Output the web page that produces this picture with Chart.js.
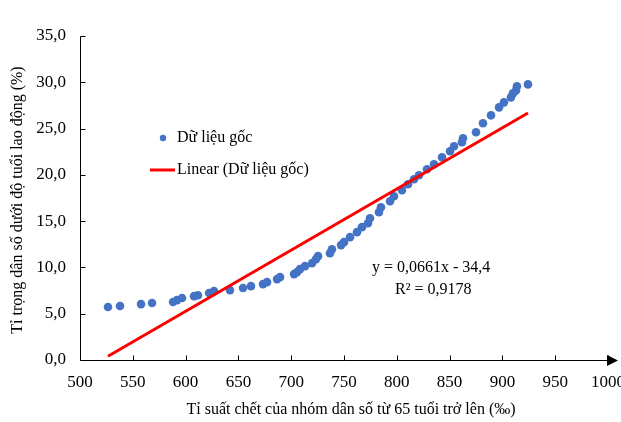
<!DOCTYPE html>
<html>
<head>
<meta charset="utf-8">
<script src="https://cdn.jsdelivr.net/npm/chart.js@4.4.1/dist/chart.umd.min.js"></script>
<style>
  body { margin: 0; background: #fff; }
  #wrap { width: 621px; height: 422px; }
</style>
</head>
<body>
<div id="wrap"><canvas id="chart" width="621" height="422"></canvas></div>
<script>
// Dữ liệu gốc
const mortality = [526.5, 537.9, 557.8, 568.2, 588.1, 591.9, 596.6, 608.0, 611.7, 622.2,
    626.9, 642.0, 654.4, 661.9, 673.3, 677.1, 686.6, 689.4, 702.7, 705.5,
    708.3, 713.1, 719.7, 723.5, 725.4, 736.7, 738.6, 747.2, 750.0, 755.7,
    762.3, 767.0, 772.7, 774.6, 783.1, 785.0, 793.6, 797.3, 804.9, 810.6,
    816.3, 821.0, 828.6, 835.2, 842.8, 850.4, 854.2, 861.7, 862.7, 875.0,
    881.6, 889.2, 896.8, 901.5, 908.1, 910.0, 912.9, 913.8, 924.2];
const youngShare = [5.72, 5.83, 6.04, 6.15, 6.26, 6.47, 6.69, 6.90, 7.00, 7.23,
    7.44, 7.55, 7.77, 7.98, 8.20, 8.41, 8.74, 8.95, 9.28, 9.49,
    9.82, 10.14, 10.46, 10.90, 11.22, 11.54, 11.97, 12.41, 12.73, 13.27,
    13.81, 14.35, 14.78, 15.32, 15.97, 16.50, 17.15, 17.69, 18.34, 18.99,
    19.53, 19.96, 20.60, 21.14, 21.90, 22.55, 23.09, 23.52, 23.95, 24.60,
    25.57, 26.43, 27.29, 27.83, 28.37, 28.80, 29.13, 29.56, 29.77];

// trendline coefficients (from the equation on the chart)
const slope = 0.0661;
const intercept = -34.4;
const rSquared = 0.9178;

const seriesLabels = ['Dữ liệu gốc', 'Linear (Dữ liệu gốc)'];
const xTitle = 'Tỉ suất chết của nhóm dân số từ 65 tuổi trở lên (‰)';
const yTitle = 'Tỉ trọng dân số dưới độ tuổi lao động (%)';

const SERIF = '"Liberation Serif", "Times New Roman", serif';
const BLUE = '#4472C4';
const RED = '#FF0000';

const points = mortality.map((x, i) => ({ x: x, y: youngShare[i] }));
const xMin = Math.min(...mortality);
const xMax = Math.max(...mortality);
const trend = [
    { x: xMin, y: slope * xMin + intercept },
    { x: xMax, y: slope * xMax + intercept }
];

function fmt(v, d) {
    return v.toFixed(d).replace('.', ',');
}

// axes, inward ticks, arrow, legend, titles and equation
const decorations = {
    id: 'decorations',
    afterDraw(chart) {
        const ctx = chart.ctx;
        const xs = chart.scales.x;
        const ys = chart.scales.y;
        const left = Math.round(xs.getPixelForValue(500)) + 0.5;
        const bottom = Math.round(ys.getPixelForValue(0)) + 0.5;
        const top = Math.round(ys.getPixelForValue(35)) + 0.5;
        const right = xs.getPixelForValue(1000);

        ctx.save();
        ctx.strokeStyle = '#000';
        ctx.lineWidth = 1;
        ctx.beginPath();
        ctx.moveTo(left, top);
        ctx.lineTo(left, bottom);
        ctx.lineTo(right, bottom);
        ctx.stroke();

        ctx.beginPath();
        for (let v = 0; v <= 35; v += 5) {
            const y = Math.round(ys.getPixelForValue(v)) + 0.5;
            ctx.moveTo(left, y);
            ctx.lineTo(left + 5, y);
        }
        for (let v = 550; v <= 1000; v += 50) {
            const x = Math.round(xs.getPixelForValue(v)) + 0.5;
            ctx.moveTo(x, bottom);
            ctx.lineTo(x, bottom - 5);
        }
        ctx.stroke();

        // arrow at the end of the x axis
        ctx.fillStyle = '#000';
        ctx.beginPath();
        ctx.moveTo(right - 1, bottom - 5.5);
        ctx.lineTo(right + 10, bottom);
        ctx.lineTo(right - 1, bottom + 5.5);
        ctx.closePath();
        ctx.fill();

        // legend
        ctx.fillStyle = BLUE;
        ctx.beginPath();
        ctx.arc(163, 138, 3.2, 0, Math.PI * 2);
        ctx.fill();
        ctx.strokeStyle = RED;
        ctx.lineWidth = 3;
        ctx.beginPath();
        ctx.moveTo(150, 170);
        ctx.lineTo(175, 170);
        ctx.stroke();

        ctx.fillStyle = '#000';
        ctx.font = '16px ' + SERIF;
        ctx.textAlign = 'left';
        ctx.textBaseline = 'middle';
        ctx.fillText(seriesLabels[0], 177, 138);
        ctx.fillText(seriesLabels[1], 177, 170);

        // equation
        ctx.fillText('y = ' + fmt(slope, 4) + 'x - ' + fmt(-intercept, 1), 372, 268);
        ctx.fillText('R² = ' + fmt(rSquared, 4), 395, 290);

        // axis titles
        ctx.textAlign = 'center';
        ctx.fillText(xTitle, 351, 410);
        ctx.translate(18, 200);
        ctx.rotate(-Math.PI / 2);
        ctx.fillText(yTitle, 0, 0);
        ctx.restore();
    }
};

const ctx = document.getElementById('chart').getContext('2d');
new Chart(ctx, {
    type: 'scatter',
    data: {
        datasets: [{
            label: seriesLabels[1],
            type: 'line',
            data: trend,
            borderColor: RED,
            borderWidth: 3,
            pointRadius: 0,
            fill: false,
            order: 0
        }, {
            label: seriesLabels[0],
            data: points,
            backgroundColor: BLUE,
            borderWidth: 0,
            pointRadius: 4.3,
            order: 1
        }]
    },
    options: {
        responsive: false,
        animation: false,
        layout: {
            padding: { top: 36, right: 13, bottom: 0, left: 0 }
        },
        plugins: {
            legend: { display: false },
            tooltip: { enabled: false }
        },
        scales: {
            x: {
                type: 'linear',
                min: 500,
                max: 1000,
                border: { display: false },
                grid: { display: false, drawTicks: false },
                ticks: {
                    stepSize: 50,
                    padding: 12,
                    color: '#000',
                    maxRotation: 0,
                    font: { family: SERIF, size: 17 },
                    callback: function(value) {
                        return String(value);
                    }
                },
                afterFit: function(scale) {
                    scale.height = 62;
                    scale.paddingLeft = 0;
                    scale.paddingRight = 0;
                }
            },
            y: {
                min: 0,
                max: 35,
                border: { display: false },
                grid: { display: false, drawTicks: false },
                ticks: {
                    stepSize: 5,
                    padding: 14,
                    color: '#000',
                    font: { family: SERIF, size: 17 },
                    callback: function(value) {
                        return fmt(value, 1);
                    }
                },
                afterFit: function(scale) {
                    scale.width = 80;
                    scale.paddingTop = 0;
                    scale.paddingBottom = 0;
                }
            }
        }
    },
    plugins: [decorations]
});
</script>
</body>
</html>
